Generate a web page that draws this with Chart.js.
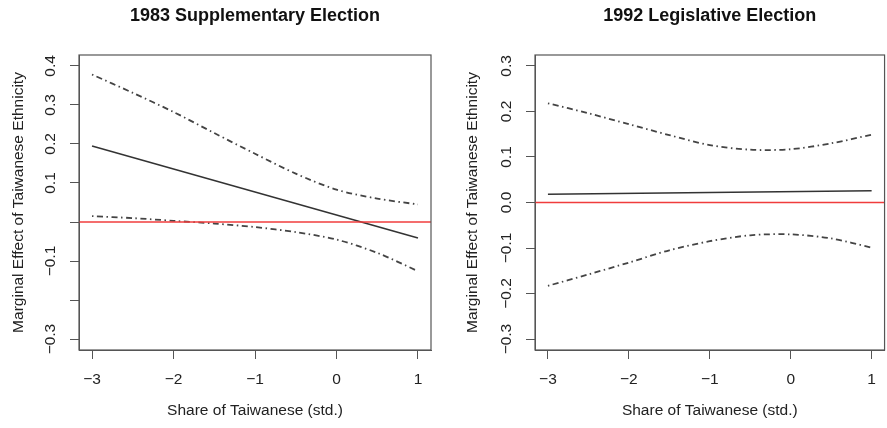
<!DOCTYPE html>
<html>
<head>
<meta charset="utf-8">
<script src="https://cdn.jsdelivr.net/npm/chart.js@4"></script>
<style>
  body { margin: 0; background: #fff; width: 887px; height: 428px; overflow: hidden; position: relative; }
  canvas { position: absolute; top: 0; }
</style>
</head>
<body>
<canvas id="c1983" width="443" height="428" style="left:0"></canvas>
<canvas id="c1992" width="444" height="428" style="left:443px"></canvas>
<script>
const xGrid = [-3, -2.5, -2, -1.5, -1, -0.5, 0, 0.5, 1];
const lineX = [-3, 1];
const xTicks = [-3, -2, -1, 0, 1];
const xLabels = ['−3', '−2', '−1', '0', '1'];
const refLine = 0;

// 1983 Supplementary Election
const est1983 = [0.195, -0.041];
const upper1983 = [0.378, 0.331, 0.282, 0.228, 0.175, 0.124, 0.083, 0.060, 0.045];
const lower1983 = [0.015, 0.010, 0.003, -0.004, -0.013, -0.026, -0.045, -0.079, -0.126];
const yTicks1983 = [-0.3, -0.2, -0.1, 0, 0.1, 0.2, 0.3, 0.4];
const yLabels1983 = ['−0.3', '', '−0.1', '', '0.1', '0.2', '0.3', '0.4'];

// 1992 Legislative Election
const est1992 = [0.018, 0.026];
const upper1992 = [0.218, 0.196, 0.172, 0.148, 0.126, 0.116, 0.117, 0.130, 0.149];
const lower1992 = [-0.183, -0.158, -0.132, -0.105, -0.085, -0.072, -0.070, -0.079, -0.099];
const yTicks1992 = [-0.3, -0.2, -0.1, 0, 0.1, 0.2, 0.3];
const yLabels1992 = ['−0.3', '−0.2', '−0.1', '0.0', '0.1', '0.2', '0.3'];

const FONT = '"Liberation Sans", Arial, sans-serif';
const AXIS = '#555';
const INK = '#222';

const framePlugin = {
  id: 'frame',
  afterDatasetsDraw(chart) {
    const { ctx, chartArea: a, scales: { y } } = chart;
    const py = y.getPixelForValue(refLine);
    ctx.save();
    ctx.strokeStyle = '#f03c3c';
    ctx.lineWidth = 1.3;
    ctx.beginPath();
    ctx.moveTo(a.left, py);
    ctx.lineTo(a.right, py);
    ctx.stroke();
    ctx.restore();
  },
  afterDraw(chart, args, opts) {
    const { ctx, chartArea: a } = chart;
    ctx.save();
    ctx.strokeStyle = AXIS;
    ctx.lineWidth = 1.2;
    ctx.strokeRect(a.left, a.top, a.right - a.left, a.bottom - a.top);
    ctx.fillStyle = '#111';
    ctx.font = 'bold 18px ' + FONT;
    ctx.textAlign = 'center';
    ctx.textBaseline = 'middle';
    ctx.fillText(opts.text, (a.left + a.right) / 2, 16);
    ctx.restore();
  },
};

const pts = (xs, ys) => xs.map((x, i) => ({ x, y: ys[i] }));

function makeChart(id, title, est, upper, lower, yRange, yTicks, yLabels, yWidth, padRight, yTitlePad) {
  const ciStyle = {
    borderColor: '#444',
    borderWidth: 1.8,
    borderDash: [1.5, 3.5, 6, 3.5],
    pointRadius: 0,
    tension: 0.3,
  };
  new Chart(document.getElementById(id), {
    type: 'line',
    data: {
      datasets: [
        { data: pts(lineX, est), borderColor: '#333', borderWidth: 1.5, pointRadius: 0 },
        { data: pts(xGrid, upper), ...ciStyle },
        { data: pts(xGrid, lower), ...ciStyle },
      ],
    },
    options: {
      responsive: false,
      animation: false,
      layout: { padding: { top: 55, right: padRight, left: 0, bottom: 0 } },
      plugins: {
        legend: { display: false },
        tooltip: { enabled: false },
        frame: { text: title },
      },
      scales: {
        x: {
          type: 'linear',
          min: -3.16,
          max: 1.16,
          afterBuildTicks: (s) => { s.ticks = xTicks.map((v) => ({ value: v })); },
          afterFit: (s) => { s.height = 78; },
          ticks: {
            callback: (v) => xLabels[xTicks.indexOf(v)],
            font: { family: FONT, size: 15.5 },
            color: INK,
            padding: 11,
            maxRotation: 0,
            autoSkip: false,
          },
          grid: { drawOnChartArea: false, drawTicks: true, tickLength: 9, color: AXIS },
          border: { color: AXIS },
          title: {
            display: true,
            text: 'Share of Taiwanese (std.)',
            font: { family: FONT, size: 15.5 },
            color: INK,
            padding: { bottom: 7.7, top: 0 },
          },
        },
        y: {
          type: 'linear',
          min: yRange[0],
          max: yRange[1],
          afterBuildTicks: (s) => { s.ticks = yTicks.map((v) => ({ value: v })); },
          afterFit: (s) => { s.width = yWidth; },
          ticks: {
            callback: (v) => yLabels[yTicks.findIndex((t) => Math.abs(t - v) < 1e-9)],
            font: { family: FONT, size: 15.5 },
            color: INK,
            minRotation: 90,
            maxRotation: 90,
            crossAlign: 'center',
            padding: 4,
            autoSkip: false,
          },
          grid: { drawOnChartArea: false, drawTicks: true, tickLength: 9, color: AXIS },
          border: { color: AXIS },
          title: {
            display: true,
            text: 'Marginal Effect of Taiwanese Ethnicity',
            font: { family: FONT, size: 15.5 },
            color: INK,
            padding: { top: yTitlePad, bottom: 0 },
          },
        },
      },
    },
    plugins: [framePlugin],
  });
}

makeChart('c1983', '1983 Supplementary Election', est1983, upper1983, lower1983,
  [-0.328, 0.428], yTicks1983, yLabels1983, 79, 12, 9.2);
makeChart('c1992', '1992 Legislative Election', est1992, upper1992, lower1992,
  [-0.324, 0.324], yTicks1992, yLabels1992, 92, 2, 20.7);
</script>
</body>
</html>
